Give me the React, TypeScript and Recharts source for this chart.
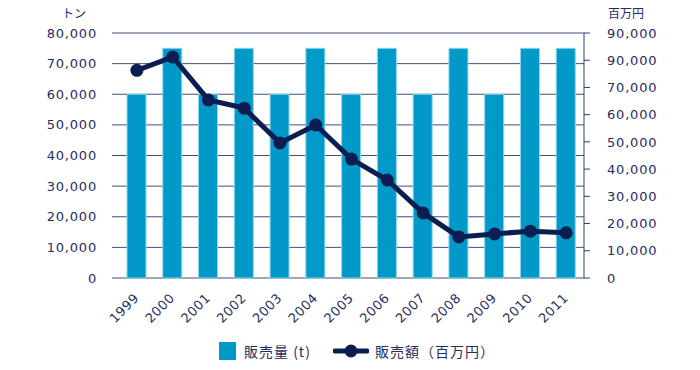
import React from 'react';
import { ComposedChart, Bar, Line, XAxis, YAxis, CartesianGrid } from 'recharts';

const years = ['1999', '2000', '2001', '2002', '2003', '2004', '2005', '2006', '2007', '2008', '2009', '2010', '2011'];
const volume = [60000, 75000, 60000, 75000, 60000, 75000, 60000, 75000, 60000, 75000, 60000, 75000, 75000];
const sales = [76300, 81200, 65400, 62400, 49600, 56200, 43700, 36000, 23900, 15100, 16200, 17200, 16600];

const leftTicks = [0, 10000, 20000, 30000, 40000, 50000, 60000, 70000, 80000];
const rightTicks = [0, 10000, 20000, 30000, 40000, 50000, 60000, 70000, 80000, 90000];
// labels as printed on the original right axis
const rightLabels = ['0', '10,000', '20,000', '30,000', '40,000', '50,000', '60,000', '70,000', '90,000', '90,000'];

const data = years.map((y, i) => ({ year: y, volume: volume[i], sales: sales[i] }));

const NAVY = '#0c1d52';
const TEXT = '#1f2d5f';
const BLUE = '#0199c7';
const FONT = '"DejaVu Sans", Verdana, sans-serif';
const JP = '"Noto Sans CJK JP", sans-serif';

const YearTick = (props: any) => {
  const { x, y, payload } = props;
  return (
    <text
      x={x}
      y={y}
      transform={`rotate(-45 ${x} ${y})`}
      textAnchor="end"
      fill={TEXT}
      fontSize={13}
      fontFamily={FONT}
      letterSpacing={0.5}
      dy={4}
    >
      {payload.value}
    </text>
  );
};

const App: React.FC = () => {
  return (
    <div style={{ position: 'absolute', left: 0, top: 0, width: 700, height: 370, background: '#fff' }}>
      <ComposedChart width={700} height={370} data={data} margin={{ top: 33, right: 0, bottom: 0, left: 0 }}>
        <CartesianGrid yAxisId="left" vertical={false} stroke="#2e3c6e" strokeOpacity={0.9} />
        <XAxis
          dataKey="year"
          axisLine={false}
          tickLine={false}
          interval={0}
          height={92}
          padding={{ left: 7, right: 0 }}
          tick={<YearTick />}
          tickMargin={12}
        />
        <YAxis
          yAxisId="left"
          domain={[0, 80000]}
          ticks={leftTicks}
          width={112}
          axisLine={false}
          tickLine={false}
          tickSize={0}
          tickMargin={15}
          tick={{ fill: TEXT, fontSize: 13, fontFamily: FONT, letterSpacing: 0.8 }}
          tickFormatter={(v: number) => v.toLocaleString('en-US')}
        />
        <YAxis
          yAxisId="right"
          orientation="right"
          domain={[0, 90000]}
          ticks={rightTicks}
          width={116}
          axisLine={{ stroke: '#2e3c6e' }}
          tickLine={{ stroke: '#2e3c6e' }}
          tickSize={6}
          tickMargin={17}
          tick={{ fill: TEXT, fontSize: 13, fontFamily: FONT, letterSpacing: 0.8, textAnchor: 'start' }}
          tickFormatter={(v: number) => rightLabels[rightTicks.indexOf(v)]}
        />
        <Bar yAxisId="left" dataKey="volume" fill={BLUE} stroke="#8ad6ec" strokeWidth={1} barSize={19} isAnimationActive={false} />
        <Line
          yAxisId="right"
          dataKey="sales"
          stroke={NAVY}
          strokeWidth={5}
          dot={{ r: 6.5, fill: NAVY, stroke: NAVY, strokeWidth: 0 }}
          isAnimationActive={false}
        />
      </ComposedChart>
      <div style={{ position: 'absolute', left: 62, top: 4, fontFamily: JP, fontSize: 12, color: TEXT }}>トン</div>
      <div style={{ position: 'absolute', left: 608, top: 4, fontFamily: JP, fontSize: 12, color: TEXT }}>百万円</div>
      <div
        style={{
          position: 'absolute',
          left: 219,
          top: 341,
          display: 'flex',
          alignItems: 'center',
          fontFamily: JP,
          fontSize: 14,
          color: TEXT,
          letterSpacing: 1,
        }}
      >
        <span style={{ display: 'inline-block', width: 17, height: 18, background: BLUE }} />
        <span style={{ marginLeft: 8 }}>販売量 (t)</span>
        <svg width={36} height={18} style={{ marginLeft: 22 }}>
          <line x1={2} y1={9} x2={34} y2={9} stroke={NAVY} strokeWidth={5} strokeLinecap="round" />
          <circle cx={18} cy={9} r={6.5} fill={NAVY} />
        </svg>
        <span style={{ marginLeft: 6 }}>販売額（百万円）</span>
      </div>
    </div>
  );
};

export default App;
